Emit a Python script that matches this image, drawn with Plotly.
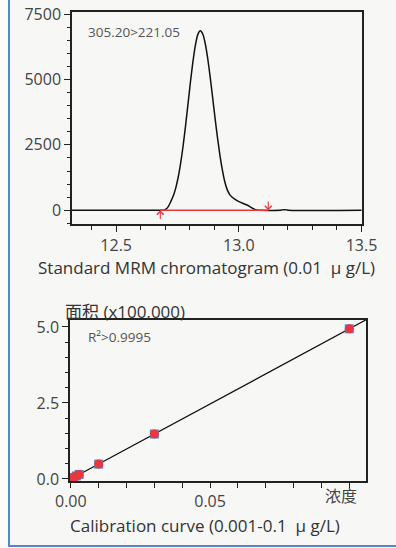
import numpy as np
import plotly.graph_objects as go

# --- Chromatogram (MRM 305.20>221.05, 0.01 ug/L standard) ---
rt_min = [12.320, 12.683, 12.693, 12.703, 12.713, 12.723, 12.733, 12.743, 12.753, 12.763,
          12.773, 12.783, 12.793, 12.803, 12.813, 12.823, 12.833, 12.843, 12.853,
          12.863, 12.873, 12.883, 12.893, 12.903, 12.913, 12.923, 12.933, 12.943,
          12.953, 12.963, 12.973, 12.983, 12.993, 13.003, 13.013, 13.023, 13.033,
          13.043, 13.053, 13.063, 13.073, 13.083, 13.170, 13.176, 13.196, 13.202, 13.500]
intensity = [0, 0, 0, 40, 150, 342, 553, 855, 1271, 1811,
             2476, 3243, 4080, 4922, 5693, 6317, 6725, 6866, 6740,
             6376, 5815, 5111, 4324, 3527, 2775, 2102, 1533, 1079,
             780, 600, 500, 430, 370, 320, 280, 240, 200,
             150, 90, 40, 10, 0, 0, 15, 15, 0, 0]
peak_start = 12.68
peak_end = 13.12
transition = "305.20>221.05"

# --- Calibration curve (area x100,000 vs concentration) ---
conc = [0.001, 0.002, 0.003, 0.01, 0.03, 0.1]
area = [0.05, 0.10, 0.15, 0.49, 1.48, 4.94]
r2_text = "R²>0.9995"

W, H = 396, 548
BG = "#f7f7f5"
RED = "#e8383d"
BLUE = "#5585cc"
TXT = "#444444"
FONT = "Open Sans, Noto Sans CJK SC, sans-serif"


def px_x(p):
    return p / W


def px_y(p):
    return 1 - p / H


fig = go.Figure()

# chromatogram trace
fig.add_trace(go.Scatter(x=rt_min, y=intensity, mode="lines",
                         line=dict(color="#111111", width=1.5, shape="spline", smoothing=0.6),
                         xaxis="x", yaxis="y", hoverinfo="skip"))
# integration baseline
fig.add_trace(go.Scatter(x=[peak_start, peak_end], y=[0, 0], mode="lines", line=dict(color=RED, width=1.3),
                         xaxis="x", yaxis="y", hoverinfo="skip"))

# calibration regression line (least squares through the standards)
slope, intercept = np.polyfit(conc, area, 1)
fit_x = np.array([0.0, 0.106])
fig.add_trace(go.Scatter(x=fit_x, y=slope * fit_x + intercept, mode="lines", line=dict(color="#111111", width=1.3),
                         xaxis="x2", yaxis="y2", hoverinfo="skip"))
fig.add_trace(go.Scatter(x=conc, y=area, mode="markers", marker=dict(symbol="square", size=9, color=BLUE),
                         xaxis="x2", yaxis="y2", cliponaxis=False, hoverinfo="skip"))
fig.add_trace(go.Scatter(x=conc, y=area, mode="markers", marker=dict(symbol="circle", size=9, color=RED),
                         xaxis="x2", yaxis="y2", cliponaxis=False, hoverinfo="skip"))

axis_common = dict(showline=True, mirror=True, linecolor="#222222", linewidth=1.5, ticks="outside",
                   tickcolor="#222222", showgrid=False, zeroline=False, automargin=False,
                   tickfont=dict(family=FONT, size=16, color=TXT))

fig.update_layout(
    width=W, height=H,
    margin=dict(l=0, r=0, t=0, b=0, pad=0, autoexpand=False),
    paper_bgcolor=BG, plot_bgcolor=BG,
    showlegend=False,
    xaxis=dict(domain=[px_x(72), px_x(362)], anchor="y", range=[12.32, 13.502],
               tickvals=[12.5, 13.0, 13.5], ticktext=["12.5", "13.0", "13.5"], ticklen=6,
               minor=dict(dtick=0.1, tick0=12.0, ticks="outside", ticklen=4, tickcolor="#222222"),
               **axis_common),
    yaxis=dict(domain=[px_y(224), px_y(12)], anchor="x", range=[-525, 7580],
               tickvals=[0, 2500, 5000, 7500], ticklen=6,
               minor=dict(dtick=500, tick0=0, ticks="outside", ticklen=3, tickcolor="#222222"),
               **axis_common),
    xaxis2=dict(domain=[px_x(70), px_x(366)], anchor="y2", range=[-0.0003, 0.106],
                tickvals=[0.0, 0.05], ticktext=["0.00", "0.05"], ticklen=5,
                minor=dict(dtick=0.01, tick0=0, ticks="outside", ticklen=5, tickcolor="#222222"),
                **axis_common),
    yaxis2=dict(domain=[px_y(481), px_y(320)], anchor="x2", range=[-0.066, 5.23],
                tickvals=[0.0, 2.5, 5.0], ticktext=["0.0", "2.5", "5.0"], ticklen=6,
                minor=dict(dtick=0.5, tick0=0, ticks="outside", ticklen=3, tickcolor="#222222"),
                **axis_common),
)

annotations = [
    # integration start / end markers
    dict(x=peak_start, y=0, ax=peak_start, ay=-390, xref="x", yref="y", axref="x", ayref="y",
         showarrow=True, arrowhead=4, arrowsize=1.2, arrowwidth=1.1, arrowcolor=RED, text=""),
    dict(x=peak_end, y=0, ax=peak_end, ay=390, xref="x", yref="y", axref="x", ayref="y",
         showarrow=True, arrowhead=4, arrowsize=1.2, arrowwidth=1.1, arrowcolor=RED, text=""),
    dict(x=px_x(86), y=px_y(32), xref="paper", yref="paper", xanchor="left", yanchor="middle",
         text=transition, showarrow=False, font=dict(family=FONT, size=13.5, color="#555555")),
    dict(x=px_x(206.5), y=px_y(267), xref="paper", yref="paper", xanchor="center", yanchor="middle",
         text="Standard MRM chromatogram (0.01\u00a0\u00a0μ\u00a0g/L)", showarrow=False,
         font=dict(family=FONT, size=17, color="#333333")),
    dict(x=px_x(63), y=px_y(311), xref="paper", yref="paper", xanchor="left", yanchor="middle",
         text="面积 (x100,000)", showarrow=False, font=dict(family=FONT, size=17, color="#333333")),
    dict(x=px_x(86), y=px_y(337), xref="paper", yref="paper", xanchor="left", yanchor="middle",
         text=r2_text, showarrow=False, font=dict(family=FONT, size=13.5, color="#555555")),
    dict(x=px_x(341), y=px_y(496), xref="paper", yref="paper", xanchor="center", yanchor="middle",
         text="浓度", showarrow=False, font=dict(family=FONT, size=16, color=TXT)),
    dict(x=px_x(205), y=px_y(525), xref="paper", yref="paper", xanchor="center", yanchor="middle",
         text="Calibration curve (0.001-0.1\u00a0\u00a0μ\u00a0g/L)", showarrow=False,
         font=dict(family=FONT, size=17, color="#333333")),
]
fig.update_layout(annotations=annotations)

# frame lines on the left and bottom of the panel
fig.update_layout(shapes=[
    dict(type="rect", xref="paper", yref="paper", x0=0, x1=px_x(8), y0=0, y1=1,
         fillcolor="#fbfbfa", line=dict(width=0), layer="below"),
    dict(type="line", xref="paper", yref="paper", x0=px_x(9), x1=px_x(9), y0=px_y(547), y1=1.0,
         line=dict(color=BLUE, width=2)),
    dict(type="line", xref="paper", yref="paper", x0=px_x(9), x1=1.0, y0=px_y(546), y1=px_y(546),
         line=dict(color=BLUE, width=2)),
])

fig.write_html("out.html")
